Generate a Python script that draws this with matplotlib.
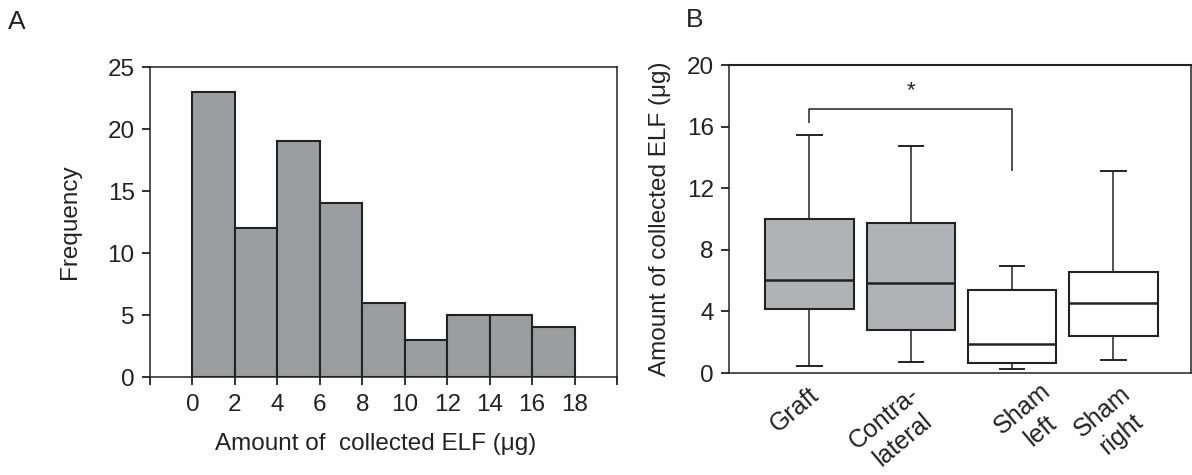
import matplotlib
matplotlib.use("Agg")
import matplotlib.pyplot as plt
from matplotlib.transforms import ScaledTranslation

plt.rcParams['font.family'] = ['Liberation Sans', 'DejaVu Sans']

# ---------------- data ----------------
# Panel A: histogram
bin_edges = [0, 2, 4, 6, 8, 10, 12, 14, 16, 18]
counts = [23, 12, 19, 14, 6, 3, 5, 5, 4]
hist_xticks = [-2, 0, 2, 4, 6, 8, 10, 12, 14, 16, 18, 20]
hist_xticklabels = ['', '0', '2', '4', '6', '8', '10', '12', '14', '16', '18', '']
hist_yticks = [0, 5, 10, 15, 20, 25]

# Panel B: box plots
groups = ['Graft', 'Contra-\nlateral', 'Sham\nleft', 'Sham\nright']
whisker_low = [0.43, 0.70, 0.26, 0.82]
q1 = [4.14, 2.81, 0.63, 2.38]
median = [6.02, 5.82, 1.88, 4.55]
q3 = [9.98, 9.76, 5.37, 6.56]
whisker_high = [15.47, 14.74, 6.97, 13.14]
box_colors = ['#b1b2b6', '#b1b2b6', '#ffffff', '#ffffff']
box_yticks = [0, 4, 8, 12, 16, 20]

# significance bracket (Graft vs Sham left)
bracket_x = [1, 1, 3, 3]
bracket_y = [16.21, 17.16, 17.16, 13.12]
star_label = '*'
star_y = 18.3

# ---------------- figure ----------------
W, H, DPI = 1192, 475, 100
fig = plt.figure(figsize=(W / DPI, H / DPI), dpi=DPI)

def axes_rect(x0, y0, x1, y1):
    return [x0 / W, 1 - y1 / H, (x1 - x0) / W, (y1 - y0) / H]

dark = '#222222'
fs = 17.5

# ---------- Panel A ----------
axA = fig.add_axes(axes_rect(150, 67, 617, 377))
lefts = bin_edges[:len(counts)]
widths = [bin_edges[i + 1] - bin_edges[i] for i in range(len(counts))]
axA.bar(lefts, counts, width=widths, align='edge', color='#9c9da1',
        edgecolor=dark, linewidth=1.5, zorder=2)
axA.set_xlim(-2, 20)
axA.set_ylim(0, 25)
axA.set_xticks(hist_xticks)
axA.set_xticklabels(hist_xticklabels)
axA.set_yticks(hist_yticks)
axA.tick_params(axis='both', direction='out', length=6, width=1.3,
                color=dark, labelsize=fs, labelcolor='#222222')
axA.tick_params(axis='x', pad=6)
axA.tick_params(axis='y', pad=5)
for sp in axA.spines.values():
    sp.set_color(dark)
    sp.set_linewidth(1.1)
axA.set_ylabel('Frequency', fontsize=fs, color='#222222')
axA.yaxis.set_label_coords(-0.147, 0.5)
axA.set_xlabel('Amount of  collected ELF (\u03bcg)', fontsize=fs, color='#222222')
axA.xaxis.set_label_coords(0.484, -0.18)
axA.xaxis.label.set_va('top')

# ---------- Panel B ----------
axB = fig.add_axes(axes_rect(729, 65, 1190.5, 373))
positions = list(range(1, len(groups) + 1))
stats = []
for i in range(len(groups)):
    stats.append(dict(med=median[i], q1=q1[i], q3=q3[i],
                      whislo=whisker_low[i], whishi=whisker_high[i],
                      fliers=[], label=groups[i]))
bp = axB.bxp(stats, positions=positions, widths=0.87, patch_artist=True,
             showfliers=False, capwidths=0.24,
             boxprops=dict(edgecolor=dark, linewidth=1.5),
             medianprops=dict(color=dark, linewidth=1.8),
             whiskerprops=dict(color=dark, linewidth=1.1),
             capprops=dict(color=dark, linewidth=1.4))
for patch, c in zip(bp['boxes'], box_colors):
    patch.set_facecolor(c)
axB.set_xlim(0.206, 4.76)
axB.set_ylim(0, 20)
axB.set_yticks(box_yticks)
axB.tick_params(axis='y', direction='out', length=6, width=1.3, color=dark,
                labelsize=fs, labelcolor='#222222', pad=5)
axB.set_xticks(positions)
axB.set_xticklabels([])
axB.tick_params(axis='x', length=0)
for sp in axB.spines.values():
    sp.set_color(dark)
    sp.set_linewidth(1.1)
axB.spines['top'].set_linewidth(1.5)
axB.set_ylabel('Amount of collected ELF (\u03bcg)', fontsize=fs, color='#222222')
axB.yaxis.set_label_coords(-0.125, 0.5)

# category labels (rotated)
label_offsets = [(-15, 37), (-17, 56), (19, 47), (-2, 50)]
for pos, name, (dx, dy) in zip(positions, groups, label_offsets):
    tr = axB.get_xaxis_transform() + ScaledTranslation(dx / DPI, -dy / DPI, fig.dpi_scale_trans)
    axB.text(pos, 0, name, transform=tr, rotation=40, rotation_mode='anchor',
             ha='center', va='center', multialignment='center',
             fontsize=18, color='#222222', linespacing=1.25, clip_on=False)

# significance bracket
axB.plot(bracket_x, bracket_y, color=dark, linewidth=1.1, solid_capstyle='butt')
axB.text((bracket_x[0] + bracket_x[-1]) / 2, star_y, star_label, ha='center',
         va='center', fontsize=16, color='#222222')

# panel letters
fig.text(17 / W, 1 - 22 / H, 'A', fontsize=19, ha='center', va='center', color='#222222')
fig.text(695 / W, 1 - 20 / H, 'B', fontsize=19, ha='center', va='center', color='#222222')

fig.savefig('out.png', dpi=DPI)
